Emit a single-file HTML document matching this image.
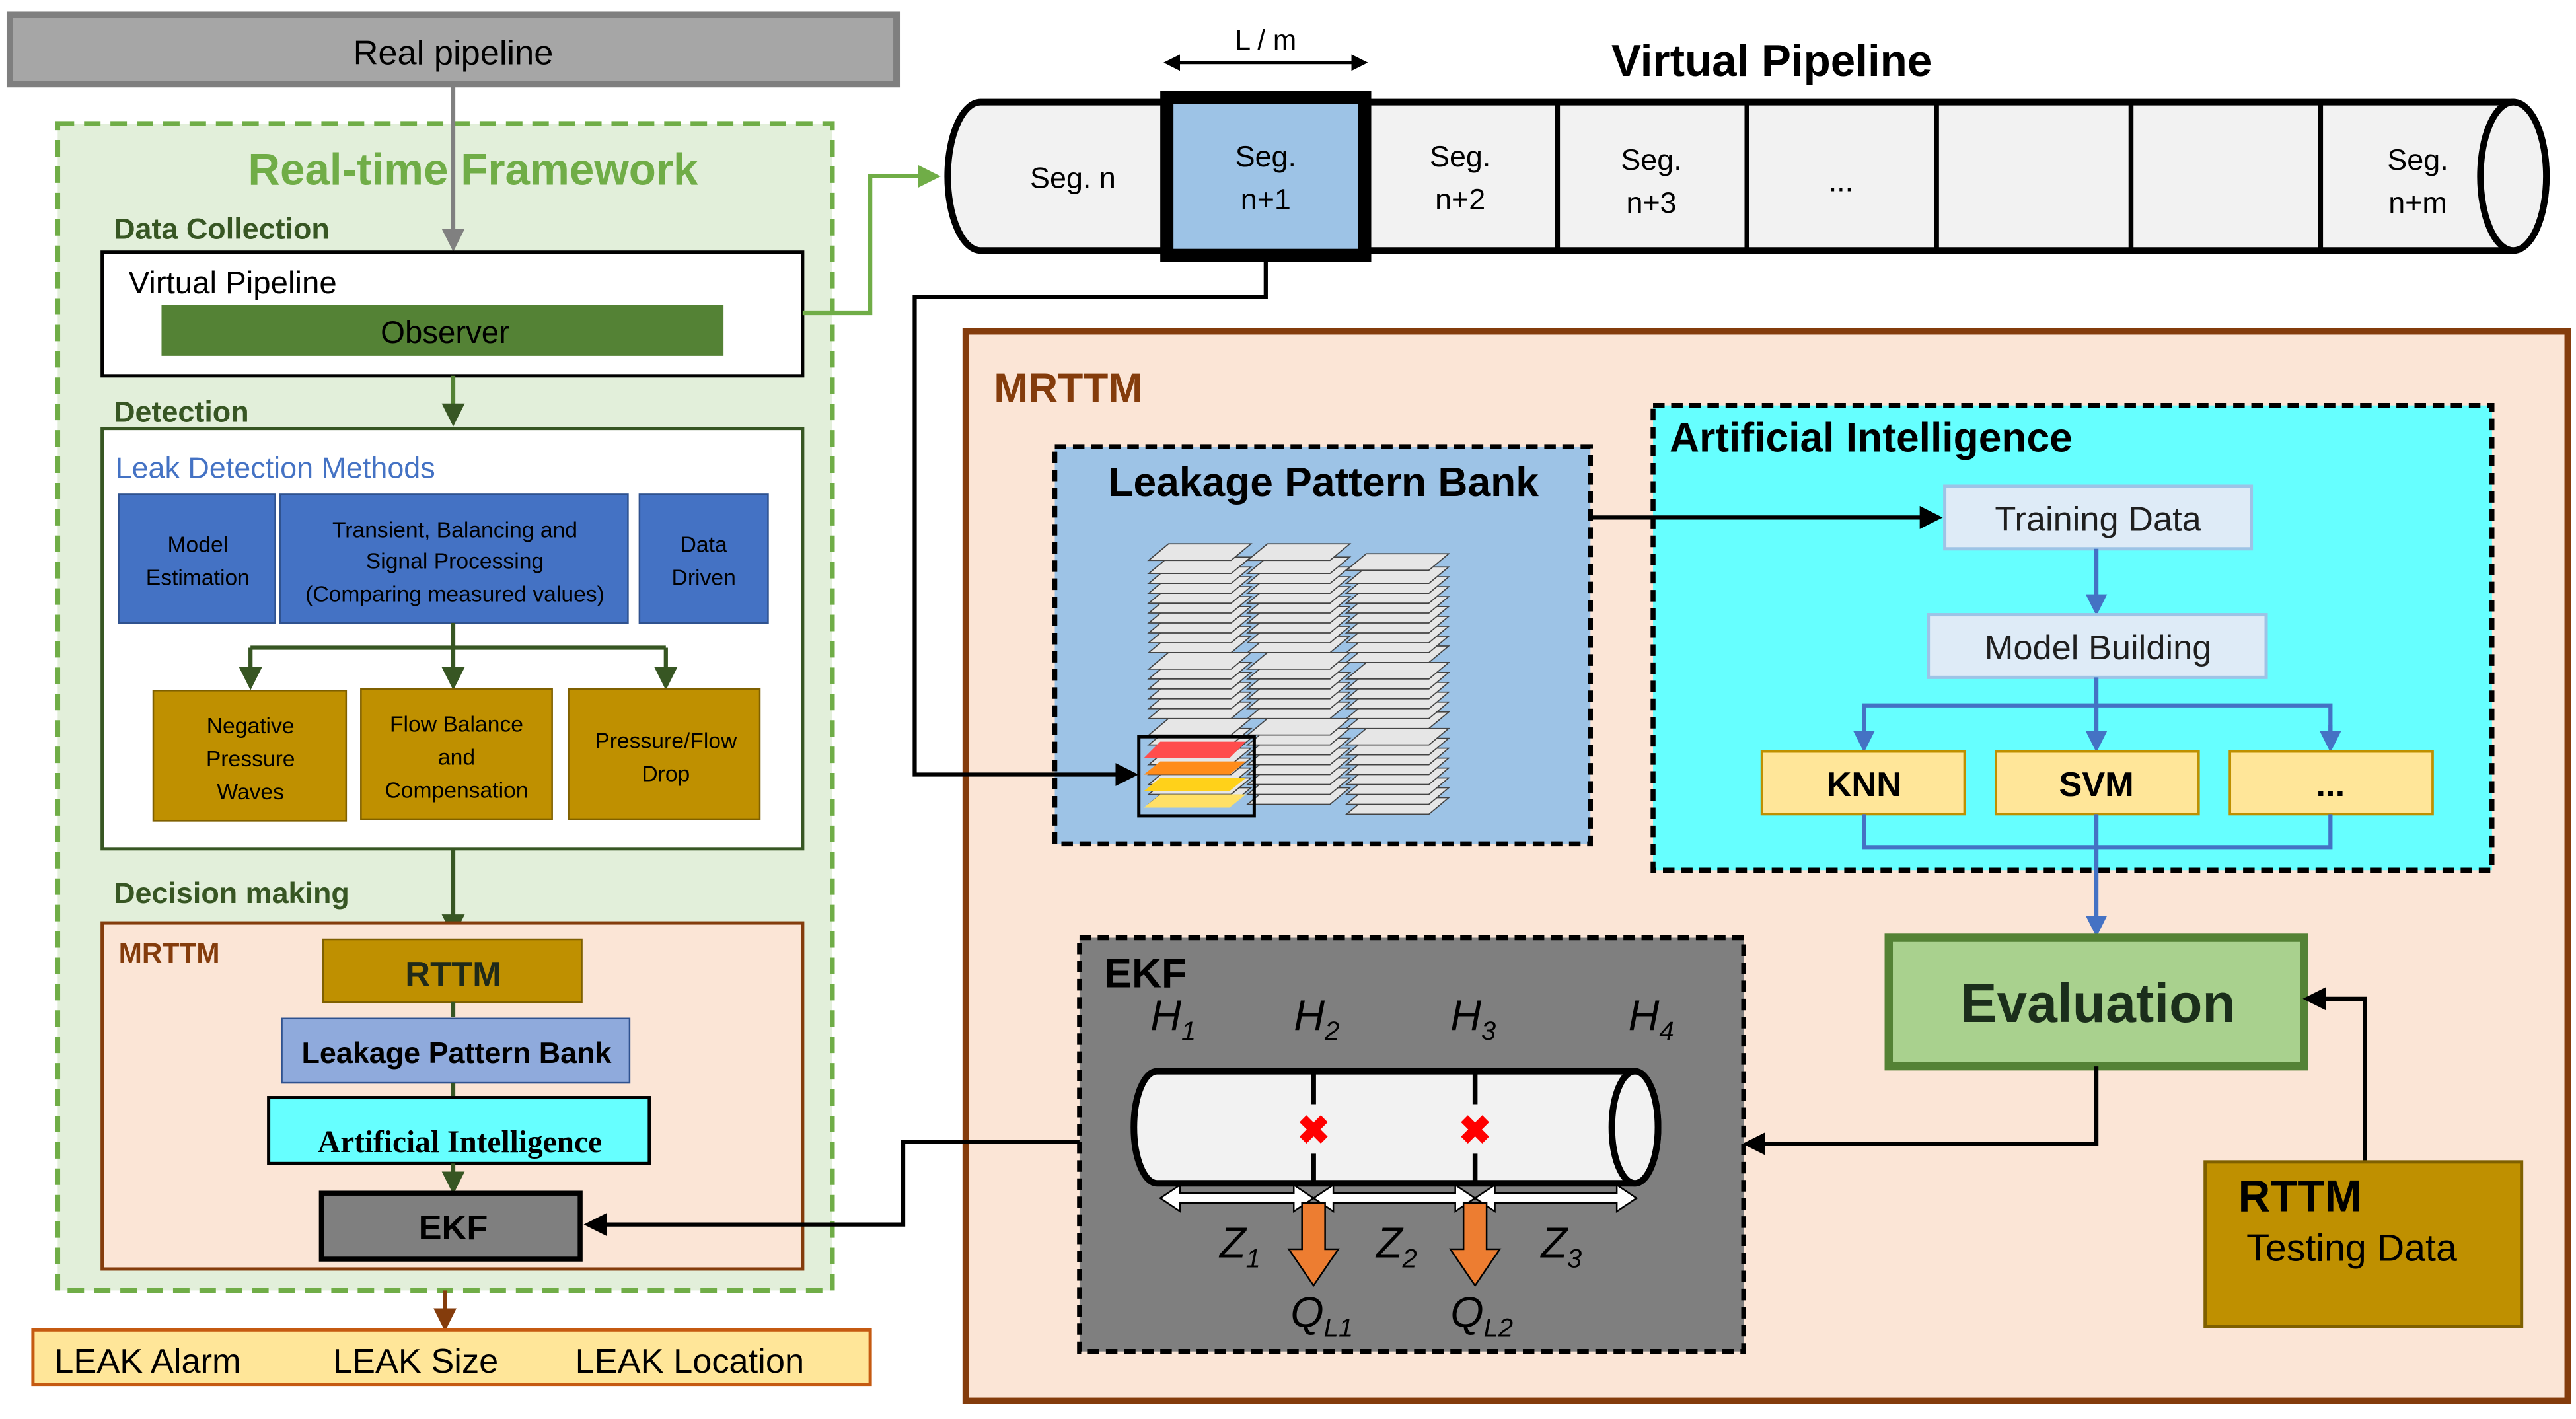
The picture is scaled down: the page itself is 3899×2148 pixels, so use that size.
<!DOCTYPE html>
<html><head><meta charset="utf-8"><style>
html,body{margin:0;padding:0;background:#fff;}
svg{display:block;}
text{font-family:"Liberation Sans",sans-serif;}
</style></head><body>
<svg width="3899" height="2148" viewBox="0 0 1563 861" preserveAspectRatio="none" xmlns="http://www.w3.org/2000/svg">
<defs>
<marker id="agl" viewBox="0 0 10 10" markerWidth="14" markerHeight="14" refX="8" refY="5" orient="auto" markerUnits="userSpaceOnUse"><path d="M0,0 L10,5 L0,10z" fill="#70ad47"/></marker>
<marker id="agr" viewBox="0 0 10 10" markerWidth="14" markerHeight="14" refX="8" refY="5" orient="auto" markerUnits="userSpaceOnUse"><path d="M0,0 L10,5 L0,10z" fill="#808080"/></marker>
<marker id="ab" viewBox="0 0 10 10" markerWidth="14" markerHeight="14" refX="8" refY="5" orient="auto" markerUnits="userSpaceOnUse"><path d="M0,0 L10,5 L0,10z" fill="#000"/></marker>
<marker id="abl" viewBox="0 0 10 10" markerWidth="13" markerHeight="13" refX="8" refY="5" orient="auto" markerUnits="userSpaceOnUse"><path d="M0,0 L10,5 L0,10z" fill="#4472c4"/></marker>
<marker id="adg" viewBox="0 0 10 10" markerWidth="14" markerHeight="14" refX="8" refY="5" orient="auto" markerUnits="userSpaceOnUse"><path d="M0,0 L10,5 L0,10z" fill="#375623"/></marker>
<marker id="abr" viewBox="0 0 10 10" markerWidth="14" markerHeight="14" refX="8" refY="5" orient="auto" markerUnits="userSpaceOnUse"><path d="M0,0 L10,5 L0,10z" fill="#843c0c"/></marker>
<marker id="ak" viewBox="0 0 10 10" markerWidth="10" markerHeight="10" refX="8" refY="5" orient="auto-start-reverse" markerUnits="userSpaceOnUse"><path d="M0,0 L10,5 L0,10z" fill="#000"/></marker>
<g id="sheet"><polygon points="0,10 12,0 62,0 50,10" fill="#e6e6e6" stroke="#444" stroke-width="0.7"/></g>
</defs>

<!-- Real pipeline -->
<rect x="6" y="9" width="538" height="42" fill="#a6a6a6" stroke="#7f7f7f" stroke-width="4"/>
<text x="275" y="39" font-size="21" text-anchor="middle">Real pipeline</text>

<!-- Real-time framework -->
<rect x="35" y="75" width="470" height="708" fill="#e2efda" stroke="#70ad47" stroke-width="3" stroke-dasharray="10,6"/>
<text x="287" y="112" font-size="27" font-weight="bold" fill="#70ad47" text-anchor="middle">Real-time Framework</text>
<line x1="275" y1="52" x2="275" y2="150" stroke="#808080" stroke-width="2.5" marker-end="url(#agr)"/>
<text x="69" y="145" font-size="18" font-weight="bold" fill="#375623">Data Collection</text>
<rect x="62" y="153" width="425" height="75" fill="#fff" stroke="#000" stroke-width="2"/>
<text x="78" y="178" font-size="19">Virtual Pipeline</text>
<rect x="98" y="185" width="341" height="31" fill="#548235"/>
<text x="270" y="208" font-size="19" text-anchor="middle">Observer</text>
<polyline points="487,190 528,190 528,107 568,107" fill="none" stroke="#70ad47" stroke-width="2.5" marker-end="url(#agl)"/>
<line x1="275" y1="228" x2="275" y2="256" stroke="#548235" stroke-width="2.5" marker-end="url(#adg)"/>
<text x="69" y="256" font-size="18" font-weight="bold" fill="#375623">Detection</text>
<rect x="62" y="260" width="425" height="255" fill="#fff" stroke="#375623" stroke-width="2"/>
<text x="70" y="290" font-size="18" fill="#4472c4">Leak Detection Methods</text>
<rect x="72" y="300" width="95" height="78" fill="#4472c4" stroke="#2f528f"/>
<text x="120" y="335" font-size="13.5" text-anchor="middle">Model</text>
<text x="120" y="355" font-size="13.5" text-anchor="middle">Estimation</text>
<rect x="170" y="300" width="211" height="78" fill="#4472c4" stroke="#2f528f"/>
<text x="276" y="326" font-size="13.5" text-anchor="middle">Transient, Balancing and</text>
<text x="276" y="345" font-size="13.5" text-anchor="middle">Signal Processing</text>
<text x="276" y="365" font-size="13.5" text-anchor="middle">(Comparing measured values)</text>
<rect x="388" y="300" width="78" height="78" fill="#4472c4" stroke="#2f528f"/>
<text x="427" y="335" font-size="13.5" text-anchor="middle">Data</text>
<text x="427" y="355" font-size="13.5" text-anchor="middle">Driven</text>
<line x1="275" y1="378" x2="275" y2="416" stroke="#375623" stroke-width="2.5" marker-end="url(#adg)"/>
<line x1="152" y1="393" x2="404" y2="393" stroke="#375623" stroke-width="2.5"/>
<line x1="152" y1="393" x2="152" y2="416" stroke="#375623" stroke-width="2.5" marker-end="url(#adg)"/>
<line x1="404" y1="393" x2="404" y2="416" stroke="#375623" stroke-width="2.5" marker-end="url(#adg)"/>
<rect x="93" y="419" width="117" height="79" fill="#bf9000" stroke="#7f6000"/>
<text x="152" y="445" font-size="13.5" text-anchor="middle">Negative</text>
<text x="152" y="465" font-size="13.5" text-anchor="middle">Pressure</text>
<text x="152" y="485" font-size="13.5" text-anchor="middle">Waves</text>
<rect x="219" y="418" width="116" height="79" fill="#bf9000" stroke="#7f6000"/>
<text x="277" y="444" font-size="13.5" text-anchor="middle">Flow Balance</text>
<text x="277" y="464" font-size="13.5" text-anchor="middle">and</text>
<text x="277" y="484" font-size="13.5" text-anchor="middle">Compensation</text>
<rect x="345" y="418" width="116" height="79" fill="#bf9000" stroke="#7f6000"/>
<text x="404" y="454" font-size="13.5" text-anchor="middle">Pressure/Flow</text>
<text x="404" y="474" font-size="13.5" text-anchor="middle">Drop</text>
<line x1="275" y1="515" x2="275" y2="566" stroke="#375623" stroke-width="2.5" marker-end="url(#adg)"/>
<text x="69" y="548" font-size="18" font-weight="bold" fill="#375623">Decision making</text>
<rect x="62" y="560" width="425" height="210" fill="#fbe5d6" stroke="#843c0c" stroke-width="2"/>
<text x="72" y="584" font-size="17" font-weight="bold" fill="#843c0c">MRTTM</text>
<rect x="196" y="570" width="157" height="38" fill="#bf9000" stroke="#7f6000"/>
<text x="275" y="598" font-size="21" font-weight="bold" fill="#1f2a1a" text-anchor="middle">RTTM</text>
<line x1="275" y1="608" x2="275" y2="617" stroke="#375623" stroke-width="2.5"/>
<rect x="171" y="618" width="211" height="39" fill="#8faadc" stroke="#2f528f"/>
<text x="277" y="645" font-size="18" font-weight="bold" text-anchor="middle">Leakage Pattern Bank</text>
<line x1="275" y1="657" x2="275" y2="665" stroke="#375623" stroke-width="2.5"/>
<rect x="163" y="666" width="231" height="40" fill="#66ffff" stroke="#000" stroke-width="2"/>
<text x="279" y="699" font-size="19" font-weight="bold" text-anchor="middle" style="font-family:'Liberation Serif',serif">Artificial Intelligence</text>
<line x1="275" y1="706" x2="275" y2="722" stroke="#375623" stroke-width="2.5" marker-end="url(#adg)"/>
<rect x="195" y="724" width="157" height="40" fill="#7f7f7f" stroke="#000" stroke-width="3"/>
<text x="275" y="752" font-size="21" font-weight="bold" text-anchor="middle">EKF</text>
<line x1="270" y1="783" x2="270" y2="805" stroke="#843c0c" stroke-width="2.5" marker-end="url(#abr)"/>
<rect x="20" y="807" width="508" height="33" fill="#ffe699" stroke="#c55a11" stroke-width="2"/>
<text x="33" y="833" font-size="21">LEAK Alarm</text>
<text x="202" y="833" font-size="21">LEAK Size</text>
<text x="349" y="833" font-size="21">LEAK Location</text>

<!-- Virtual pipeline top -->
<text x="768" y="30" font-size="17" text-anchor="middle">L / m</text>
<line x1="708" y1="38" x2="828" y2="38" stroke="#000" stroke-width="2" marker-start="url(#ak)" marker-end="url(#ak)"/>
<text x="1075" y="46" font-size="27" font-weight="bold" text-anchor="middle">Virtual Pipeline</text>
<path d="M595,62 L1525,62 A20,45 0 0 1 1525,152 L595,152 A20,45 0 0 1 595,62 Z" fill="#f2f2f2" stroke="#000" stroke-width="4"/>
<ellipse cx="1525" cy="107" rx="20" ry="45" fill="#f2f2f2" stroke="#000" stroke-width="4"/>
<g stroke="#000" stroke-width="3">
<line x1="945" y1="62" x2="945" y2="152"/><line x1="1060" y1="62" x2="1060" y2="152"/>
<line x1="1175" y1="62" x2="1175" y2="152"/><line x1="1293" y1="62" x2="1293" y2="152"/>
<line x1="1408" y1="62" x2="1408" y2="152"/>
</g>
<rect x="708" y="59" width="120" height="96" fill="#9dc3e6" stroke="#000" stroke-width="8"/>
<text x="651" y="114" font-size="18" text-anchor="middle">Seg. n</text>
<text x="768" y="101" font-size="18" text-anchor="middle">Seg.</text><text x="768" y="127" font-size="18" text-anchor="middle">n+1</text>
<text x="886" y="101" font-size="18" text-anchor="middle">Seg.</text><text x="886" y="127" font-size="18" text-anchor="middle">n+2</text>
<text x="1002" y="103" font-size="18" text-anchor="middle">Seg.</text><text x="1002" y="129" font-size="18" text-anchor="middle">n+3</text>
<text x="1117" y="116" font-size="18" text-anchor="middle">...</text>
<text x="1467" y="103" font-size="18" text-anchor="middle">Seg.</text><text x="1467" y="129" font-size="18" text-anchor="middle">n+m</text>

<!-- MRTTM big -->
<rect x="586" y="201" width="972" height="649" fill="#fbe5d6" stroke="#843c0c" stroke-width="4"/>
<text x="603" y="244" font-size="25" font-weight="bold" fill="#843c0c">MRTTM</text>

<!-- LPB -->
<rect x="640" y="271" width="325" height="241" fill="#9dc3e6" stroke="#000" stroke-width="3" stroke-dasharray="7,4"/>
<text x="803" y="301" font-size="25" font-weight="bold" text-anchor="middle">Leakage Pattern Bank</text>
<g>
<use href="#sheet" x="697" y="478"/><use href="#sheet" x="697" y="472"/><use href="#sheet" x="697" y="466"/><use href="#sheet" x="697" y="460"/><use href="#sheet" x="697" y="454"/><use href="#sheet" x="697" y="448"/><use href="#sheet" x="697" y="442"/><use href="#sheet" x="697" y="436"/><use href="#sheet" x="697" y="426"/><use href="#sheet" x="697" y="420"/><use href="#sheet" x="697" y="414"/><use href="#sheet" x="697" y="408"/><use href="#sheet" x="697" y="402"/><use href="#sheet" x="697" y="396"/><use href="#sheet" x="697" y="386"/><use href="#sheet" x="697" y="380"/><use href="#sheet" x="697" y="374"/><use href="#sheet" x="697" y="368"/><use href="#sheet" x="697" y="362"/><use href="#sheet" x="697" y="356"/><use href="#sheet" x="697" y="350"/><use href="#sheet" x="697" y="344"/><use href="#sheet" x="697" y="338"/><use href="#sheet" x="697" y="330"/>
<use href="#sheet" x="757" y="478"/><use href="#sheet" x="757" y="472"/><use href="#sheet" x="757" y="466"/><use href="#sheet" x="757" y="460"/><use href="#sheet" x="757" y="454"/><use href="#sheet" x="757" y="448"/><use href="#sheet" x="757" y="442"/><use href="#sheet" x="757" y="436"/><use href="#sheet" x="757" y="426"/><use href="#sheet" x="757" y="420"/><use href="#sheet" x="757" y="414"/><use href="#sheet" x="757" y="408"/><use href="#sheet" x="757" y="402"/><use href="#sheet" x="757" y="396"/><use href="#sheet" x="757" y="386"/><use href="#sheet" x="757" y="380"/><use href="#sheet" x="757" y="374"/><use href="#sheet" x="757" y="368"/><use href="#sheet" x="757" y="362"/><use href="#sheet" x="757" y="356"/><use href="#sheet" x="757" y="350"/><use href="#sheet" x="757" y="344"/><use href="#sheet" x="757" y="338"/><use href="#sheet" x="757" y="330"/>
<use href="#sheet" x="817" y="484"/><use href="#sheet" x="817" y="478"/><use href="#sheet" x="817" y="472"/><use href="#sheet" x="817" y="466"/><use href="#sheet" x="817" y="460"/><use href="#sheet" x="817" y="454"/><use href="#sheet" x="817" y="448"/><use href="#sheet" x="817" y="442"/><use href="#sheet" x="817" y="432"/><use href="#sheet" x="817" y="426"/><use href="#sheet" x="817" y="420"/><use href="#sheet" x="817" y="414"/><use href="#sheet" x="817" y="408"/><use href="#sheet" x="817" y="402"/><use href="#sheet" x="817" y="392"/><use href="#sheet" x="817" y="386"/><use href="#sheet" x="817" y="380"/><use href="#sheet" x="817" y="374"/><use href="#sheet" x="817" y="368"/><use href="#sheet" x="817" y="362"/><use href="#sheet" x="817" y="356"/><use href="#sheet" x="817" y="350"/><use href="#sheet" x="817" y="344"/><use href="#sheet" x="817" y="336"/>
</g>
<rect x="691" y="447" width="70" height="48" fill="none" stroke="#000" stroke-width="2"/>
<polygon points="694,460 704,450 756,450 746,460" fill="#ff4d4d"/>
<polygon points="694,470 704,462 756,462 746,470" fill="#ff8c1a"/>
<polygon points="694,480 704,472 756,472 746,480" fill="#ffd11a"/>
<polygon points="694,490 704,482 756,482 746,490" fill="#ffe066"/>

<!-- AI -->
<rect x="1003" y="246" width="509" height="282" fill="#66ffff" stroke="#000" stroke-width="3" stroke-dasharray="7,4"/>
<text x="1013" y="274" font-size="25" font-weight="bold">Artificial Intelligence</text>
<rect x="1180" y="295" width="186" height="38" fill="#deebf7" stroke="#9dc3e6" stroke-width="2"/>
<text x="1273" y="322" font-size="21" text-anchor="middle" fill="#1f1f1f">Training Data</text>
<line x1="1272" y1="333" x2="1272" y2="371" stroke="#4472c4" stroke-width="2.5" marker-end="url(#abl)"/>
<rect x="1170" y="373" width="205" height="38" fill="#deebf7" stroke="#9dc3e6" stroke-width="2"/>
<text x="1273" y="400" font-size="21" text-anchor="middle" fill="#1f1f1f">Model Building</text>
<line x1="1272" y1="411" x2="1272" y2="454" stroke="#4472c4" stroke-width="2.5" marker-end="url(#abl)"/>
<polyline points="1131,454 1131,428 1414,428 1414,454" fill="none" stroke="#4472c4" stroke-width="2.5"/>
<line x1="1131" y1="440" x2="1131" y2="454" stroke="#4472c4" stroke-width="2.5" marker-end="url(#abl)"/>
<line x1="1414" y1="440" x2="1414" y2="454" stroke="#4472c4" stroke-width="2.5" marker-end="url(#abl)"/>
<rect x="1069" y="456" width="123" height="38" fill="#ffe699" stroke="#bf9000" stroke-width="1.5"/>
<text x="1131" y="483" font-size="21" font-weight="bold" text-anchor="middle">KNN</text>
<rect x="1211" y="456" width="123" height="38" fill="#ffe699" stroke="#bf9000" stroke-width="1.5"/>
<text x="1272" y="483" font-size="21" font-weight="bold" text-anchor="middle">SVM</text>
<rect x="1353" y="456" width="123" height="38" fill="#ffe699" stroke="#bf9000" stroke-width="1.5"/>
<text x="1414" y="483" font-size="21" font-weight="bold" text-anchor="middle">...</text>
<polyline points="1131,494 1131,514 1414,514 1414,494" fill="none" stroke="#4472c4" stroke-width="2.5"/>
<line x1="1272" y1="494" x2="1272" y2="566" stroke="#4472c4" stroke-width="2.5" marker-end="url(#abl)"/>

<!-- connectors drawn on top -->
<polyline points="768,156 768,180 555,180 555,470 688,470" fill="none" stroke="#000" stroke-width="2.5" marker-end="url(#ab)"/>
<line x1="965" y1="314" x2="1176" y2="314" stroke="#000" stroke-width="2.5" marker-end="url(#ab)"/>

<!-- Evaluation -->
<rect x="1146" y="569" width="252" height="78" fill="#a9d18e" stroke="#548235" stroke-width="5"/>
<text x="1273" y="620" font-size="33" font-weight="bold" text-anchor="middle" fill="#1b2e1b">Evaluation</text>
<polyline points="1435,705 1435,606 1400,606" fill="none" stroke="#000" stroke-width="2.5" marker-end="url(#ab)"/>
<polyline points="1272,647 1272,694 1060,694" fill="none" stroke="#000" stroke-width="2.5" marker-end="url(#ab)"/>

<!-- RTTM testing -->
<rect x="1338" y="705" width="192" height="100" fill="#bf9000" stroke="#7f6000" stroke-width="2"/>
<text x="1358" y="735" font-size="27" font-weight="bold">RTTM</text>
<text x="1363" y="765" font-size="23">Testing  Data</text>

<!-- EKF -->
<rect x="655" y="569" width="403" height="251" fill="#7f7f7f" stroke="#000" stroke-width="3" stroke-dasharray="7,4"/>
<text x="670" y="599" font-size="25" font-weight="bold">EKF</text>
<polyline points="655,693 548,693 548,743 357,743" fill="none" stroke="#000" stroke-width="2.5" marker-end="url(#ab)"/>
<g font-style="italic" font-size="26" style="font-family:'Liberation Serif',serif">
<text x="698" y="625">H<tspan font-size="16" dy="6">1</tspan></text>
<text x="785" y="625">H<tspan font-size="16" dy="6">2</tspan></text>
<text x="880" y="625">H<tspan font-size="16" dy="6">3</tspan></text>
<text x="988" y="625">H<tspan font-size="16" dy="6">4</tspan></text>
<text x="740" y="763">Z<tspan font-size="16" dy="6">1</tspan></text>
<text x="835" y="763">Z<tspan font-size="16" dy="6">2</tspan></text>
<text x="935" y="763">Z<tspan font-size="16" dy="6">3</tspan></text>
<text x="783" y="805">Q<tspan font-size="16" dy="6">L1</tspan></text>
<text x="880" y="805">Q<tspan font-size="16" dy="6">L2</tspan></text>
</g>
<path d="M702,650 L992,650 A14,34 0 0 1 992,718 L702,718 A14,34 0 0 1 702,650 Z" fill="#f2f2f2" stroke="#000" stroke-width="4"/>
<ellipse cx="992" cy="684" rx="14" ry="34" fill="#f2f2f2" stroke="#000" stroke-width="4"/>
<g stroke="#000" stroke-width="3">
<line x1="797" y1="650" x2="797" y2="670"/><line x1="797" y1="700" x2="797" y2="718"/>
<line x1="895" y1="650" x2="895" y2="670"/><line x1="895" y1="700" x2="895" y2="718"/>
</g>
<text x="797" y="694" font-size="24" font-weight="bold" fill="#ff0000" text-anchor="middle">✖</text>
<text x="895" y="694" font-size="24" font-weight="bold" fill="#ff0000" text-anchor="middle">✖</text>
<g fill="#fff" stroke="#000" stroke-width="1">
<polygon points="704,727 716,719 716,724 785,724 785,719 797,727 785,735 785,730 716,730 716,735"/>
<polygon points="797,727 809,719 809,724 883,724 883,719 895,727 883,735 883,730 809,730 809,735"/>
<polygon points="895,727 907,719 907,724 981,724 981,719 993,727 981,735 981,730 907,730 907,735"/>
</g>
<g fill="#ed7d31" stroke="#000" stroke-width="1">
<polygon points="790,730 804,730 804,758 812,758 797,780 782,758 790,758"/>
<polygon points="888,730 902,730 902,758 910,758 895,780 880,758 888,758"/>
</g>
</svg>
</body></html>
